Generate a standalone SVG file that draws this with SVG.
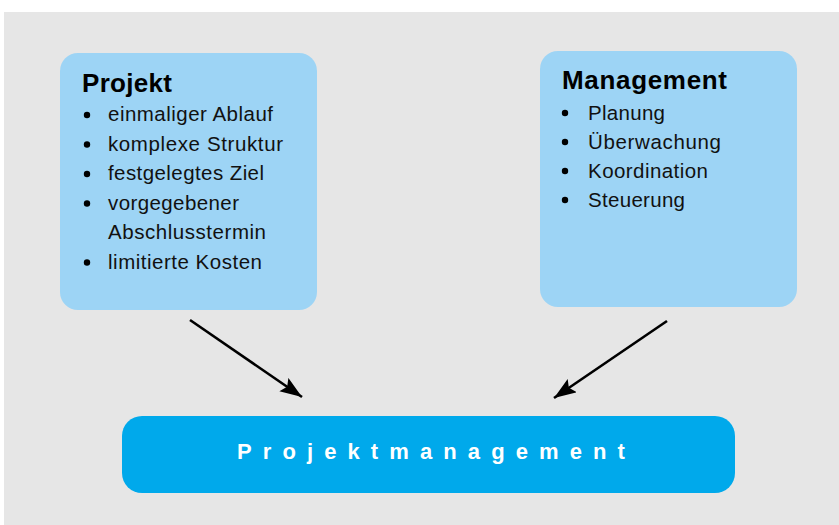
<svg xmlns="http://www.w3.org/2000/svg" width="839" height="525" viewBox="0 0 839 525">
  <style>
    .panel { fill: #9dd4f5; }
    .main { fill: #00a9eb; }
    .title { font-family: "Liberation Sans", Arial, sans-serif; font-weight: bold; font-size: 26px; fill: #000; }
    .item { font-family: "Liberation Sans", Arial, sans-serif; font-size: 20.5px; fill: #111; }
    .dot { fill: #000; }
    .big { font-family: "Liberation Sans", Arial, sans-serif; font-weight: bold; font-size: 22px; fill: #fff; letter-spacing: 11.1px; }
    .arrow { stroke: #000; stroke-width: 2.6; fill: none; }
  </style>
  <defs>
    <marker id="head" markerUnits="userSpaceOnUse" markerWidth="26" markerHeight="20" refX="22" refY="8" orient="auto">
      <path d="M0,0 L22,8 L0,16 L4,8 Z" fill="#000"/>
    </marker>
  </defs>

  <!-- backdrop -->
  <rect x="4" y="12" width="835" height="513" fill="#e6e6e6"/>

  <g id="projekt">
    <rect class="panel" x="60" y="53" width="257" height="257" rx="18"/>
    <text class="title" x="82" y="92" textLength="90" lengthAdjust="spacing">Projekt</text>
    <circle class="dot" cx="87" cy="115" r="3.2"/>
    <text class="item" x="108" y="121" textLength="165" lengthAdjust="spacing">einmaliger Ablauf</text>
    <circle class="dot" cx="87" cy="144.5" r="3.2"/>
    <text class="item" x="108" y="150.5" textLength="175" lengthAdjust="spacing">komplexe Struktur</text>
    <circle class="dot" cx="87" cy="174" r="3.2"/>
    <text class="item" x="108" y="180" textLength="156" lengthAdjust="spacing">festgelegtes Ziel</text>
    <circle class="dot" cx="87" cy="203.5" r="3.2"/>
    <text class="item" x="108" y="209.5" textLength="131" lengthAdjust="spacing">vorgegebener</text>
    <text class="item" x="108" y="239" textLength="158" lengthAdjust="spacing">Abschlusstermin</text>
    <circle class="dot" cx="87" cy="262.5" r="3.2"/>
    <text class="item" x="108" y="268.5" textLength="154" lengthAdjust="spacing">limitierte Kosten</text>
  </g>

  <g id="management">
    <rect class="panel" x="540" y="51" width="257" height="256" rx="18"/>
    <text class="title" x="562" y="89" textLength="165" lengthAdjust="spacing">Management</text>
    <circle class="dot" cx="565" cy="113" r="3.2"/>
    <text class="item" x="588" y="120" textLength="77" lengthAdjust="spacing">Planung</text>
    <circle class="dot" cx="565" cy="142" r="3.2"/>
    <text class="item" x="588" y="149" textLength="133" lengthAdjust="spacing">Überwachung</text>
    <circle class="dot" cx="565" cy="171" r="3.2"/>
    <text class="item" x="588" y="178" textLength="120" lengthAdjust="spacing">Koordination</text>
    <circle class="dot" cx="565" cy="200" r="3.2"/>
    <text class="item" x="588" y="207" textLength="97" lengthAdjust="spacing">Steuerung</text>
  </g>

  <g id="projektmanagement">
    <rect class="main" x="122" y="416" width="613" height="77" rx="20"/>
    <text class="big" x="237" y="459">Projektmanagement</text>
  </g>

  <g id="connectors">
    <line class="arrow" x1="190" y1="320" x2="302" y2="397" marker-end="url(#head)"/>
    <line class="arrow" x1="667" y1="321" x2="554" y2="398" marker-end="url(#head)"/>
  </g>
</svg>
